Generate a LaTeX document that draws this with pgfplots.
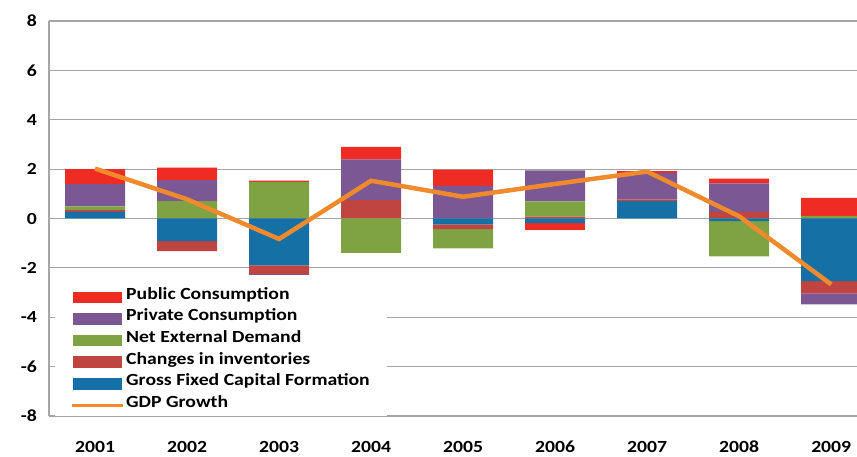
\documentclass[border=0pt]{standalone}
\usepackage{fontspec}
\setmainfont{Carlito}[FakeStretch=1.16]
\usepackage{pgfplots}
\usepackage{pgfplotstable}
\pgfplotsset{compat=1.18}
\usetikzlibrary{calc}

\definecolor{pubc}{RGB}{238,44,36}
\definecolor{privc}{RGB}{123,88,148}
\definecolor{netc}{RGB}{127,163,67}
\definecolor{invc}{RGB}{192,68,63}
\definecolor{gfcfc}{RGB}{21,112,166}
\definecolor{gdpc}{RGB}{240,138,44}
\definecolor{gridc}{RGB}{165,165,165}

% positive contributions, stacked upwards
\pgfplotstableread{
x gfcf inv net priv pub
1 0.27 0.07 0.15 0.90 0.61
2 0    0    0.70 0.85 0.51
3 0    0    1.48 0    0.05
4 0    0.74 0    1.65 0.51
5 0    0    0    1.32 0.66
6 0    0.08 0.61 1.26 0
7 0.70 0.07 0    1.08 0.07
8 0    0.27 0    1.15 0.20
9 0    0    0.11 0    0.73
}\postab

% negative contributions, stacked downwards
\pgfplotstableread{
x gfcf inv net priv pub
1 0     0     0     0     0
2 -0.92 -0.40 0     0     0
3 -1.90 -0.35 0     -0.03 0
4 0     0     -1.39 0     0
5 -0.24 -0.19 -0.78 0     0
6 -0.19 0     0     0     -0.28
7 0     0     0     0     0
8 -0.11 0     -1.42 0     0
9 -2.54 -0.49 0     -0.45 0
}\negtab

\pgfplotstableread{
x g
1 2.02
2 0.78
3 -0.83
4 1.53
5 0.88
6 1.40
7 1.90
8 0.09
9 -2.67
}\gdptab

\pgfplotsset{
  mybase/.style={
    scale only axis,
    width=808pt, height=395pt,
    xmin=0.5, xmax=9.28,
    ymin=-8, ymax=8,
    clip=true,
  },
}
\newcommand\barimg[1]{\addlegendimage{legend image code/.code={\fill[#1] (0pt,-5.3pt) rectangle (48pt,5.3pt);}}}

\begin{document}
\begin{tikzpicture}
% positive bars, grid and axis
\begin{axis}[
    mybase,
    name=ax,
    ybar stacked,
    bar width=60pt,
    axis x line*=bottom,
    axis y line*=left,
    axis line style={draw=gridc, line width=1.3pt, -},
    ymajorgrids,
    grid style={draw=gridc, line width=1.1pt},
    ytick={-8,-6,...,8},
    xtick={1,...,9},
    xticklabels={2001,2002,2003,2004,2005,2006,2007,2008,2009},
    major tick length=0pt,
    /pgf/number format/assume math mode=true,
    tick label style={font=\fontsize{17}{20}\selectfont\bfseries},
    xticklabel style={anchor=north, inner sep=0pt, yshift=-25pt},
    yticklabel style={anchor=east, inner sep=0pt, xshift=-12pt},
]
\addplot[fill=gfcfc, draw=none] table[x=x, y=gfcf] {\postab};
\addplot[fill=invc,  draw=none] table[x=x, y=inv]  {\postab};
\addplot[fill=netc,  draw=none] table[x=x, y=net]  {\postab};
\addplot[fill=privc, draw=none] table[x=x, y=priv] {\postab};
\addplot[fill=pubc,  draw=none] table[x=x, y=pub]  {\postab};
\end{axis}

% negative bars
\begin{axis}[mybase, hide axis, ybar stacked, bar width=60pt]
\addplot[fill=gfcfc, draw=none] table[x=x, y=gfcf] {\negtab};
\addplot[fill=invc,  draw=none] table[x=x, y=inv]  {\negtab};
\addplot[fill=netc,  draw=none] table[x=x, y=net]  {\negtab};
\addplot[fill=privc, draw=none] table[x=x, y=priv] {\negtab};
\addplot[fill=pubc,  draw=none] table[x=x, y=pub]  {\negtab};
\end{axis}

% GDP line and legend
\begin{axis}[
    mybase, hide axis,
    legend style={
        at={(0.0074,0.329)}, anchor=north west,
        draw=none, fill=white,
        inner xsep=15pt, inner ysep=0pt,
        font=\fontsize{17}{20}\selectfont\bfseries,
        nodes={inner ysep=0pt, text height=13pt, text depth=8.6pt},
    },
    legend cell align=left,
]
\barimg{pubc}\addlegendentry{Public Consumption}
\barimg{privc}\addlegendentry{Private Consumption}
\barimg{netc}\addlegendentry{Net External Demand}
\barimg{invc}\addlegendentry{Changes in inventories}
\barimg{gfcfc}\addlegendentry{Gross Fixed Capital Formation}
\addlegendimage{legend image code/.code={\draw[gdpc, line width=3pt] (-2pt,0pt) -- (49pt,0pt);}}
\addlegendentry{GDP Growth}
\addplot[gdpc, line width=4.5pt, no marks, forget plot] table[x=x, y=g] {\gdptab};
\end{axis}

\pgfresetboundingbox
\path[use as bounding box] ($(ax.south west)+(-49pt,-41pt)$) rectangle ($(ax.north east)+(0pt,21pt)$);
\end{tikzpicture}
\end{document}
